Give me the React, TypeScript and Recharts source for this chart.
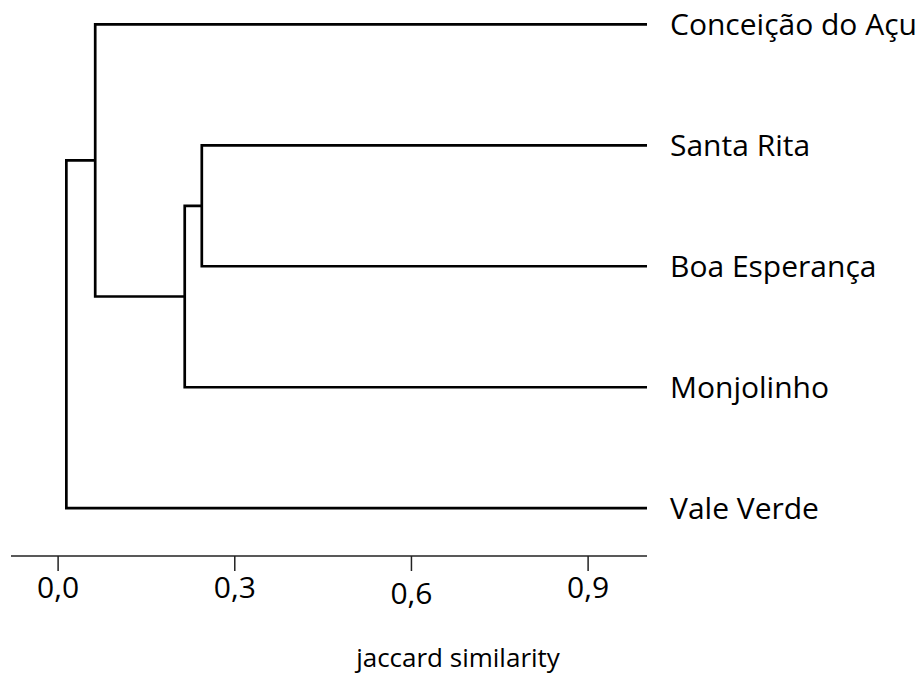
import { LineChart, Line, XAxis, YAxis } from "recharts"

// leaves of the dendrogram, top to bottom
const leafNames = ["Conceição do Açu", "Santa Rita", "Boa Esperança", "Monjolinho", "Vale Verde"]
const leafSimilarity = 1.0

// linkage table: ids 0-4 are the leaves, merge i makes cluster 5 + i
const mergeLeft = [1, 5, 0, 7]
const mergeRight = [2, 3, 6, 4]
const mergeSimilarity = [0.244, 0.215, 0.063, 0.014]

const xTicks = [0, 0.3, 0.6, 0.9]
const leafTicks = leafNames.map((_, i) => i)

const FONT = "'Open Sans', sans-serif"

// build the branch polylines (one "U" per merge)
const clusterX: number[] = leafNames.map(() => leafSimilarity)
const clusterY: number[] = leafNames.map((_, i) => i)
const branches = mergeSimilarity.map((s, i) => {
  const a = mergeLeft[i]
  const b = mergeRight[i]
  const pts = [
    { x: clusterX[a], y: clusterY[a] },
    { x: s, y: clusterY[a] },
    { x: s, y: clusterY[b] },
    { x: clusterX[b], y: clusterY[b] },
  ]
  clusterX.push(s)
  clusterY.push((clusterY[a] + clusterY[b]) / 2)
  return pts
})

const XTick = (props: any) => {
  const { x, y, payload } = props
  // the 0,6 label sits a bit lower in the original figure
  const nudge = payload.value === 0.6 ? 6 : 0
  return (
    <text x={x} y={y + nudge} dy="0.71em" textAnchor="middle" fontSize={30} fontFamily={FONT} fill="#000">
      {Number(payload.value).toFixed(1).replace(".", ",")}
    </text>
  )
}

const LeafTick = (props: any) => {
  const { x, y, payload } = props
  return (
    <text x={x} y={y} dy="0.35em" textAnchor="start" fontSize={30} fontFamily={FONT} fill="#000">
      {leafNames[payload.value]}
    </text>
  )
}

const AxisTitle = (props: any) => {
  const { viewBox } = props
  return (
    <text
      x={viewBox.x + viewBox.width / 2 + 129}
      y={viewBox.y + viewBox.height - 7}
      textAnchor="middle"
      fontSize={26}
      fontFamily={FONT}
      fill="#000"
    >
      jaccard similarity
    </text>
  )
}

export default function App() {
  return (
    <div style={{ position: "absolute", left: 0, top: 0, width: 922, height: 674, background: "#fff" }}>
      <LineChart width={922} height={674} margin={{ top: 0, right: 0, bottom: 0, left: 11 }}>
        <XAxis
          type="number"
          dataKey="x"
          domain={[-0.08, 1]}
          ticks={xTicks}
          interval={0}
          tickSize={15}
          tickMargin={6}
          height={118}
          stroke="#222"
          strokeWidth={1.5}
          tick={<XTick />}
          label={{ content: <AxisTitle /> }}
          allowDataOverflow
        />
        <YAxis
          orientation="right"
          type="number"
          dataKey="y"
          domain={[-0.201, 4.395]}
          reversed
          ticks={leafTicks}
          interval={0}
          axisLine={false}
          tickLine={false}
          tickSize={0}
          tickMargin={23}
          width={275}
          tick={<LeafTick />}
          allowDataOverflow
        />
        {branches.map((pts, i) => (
          <Line
            key={i}
            data={pts}
            dataKey="y"
            type="linear"
            stroke="#000"
            strokeWidth={2.7}
            dot={false}
            isAnimationActive={false}
          />
        ))}
      </LineChart>
    </div>
  )
}
